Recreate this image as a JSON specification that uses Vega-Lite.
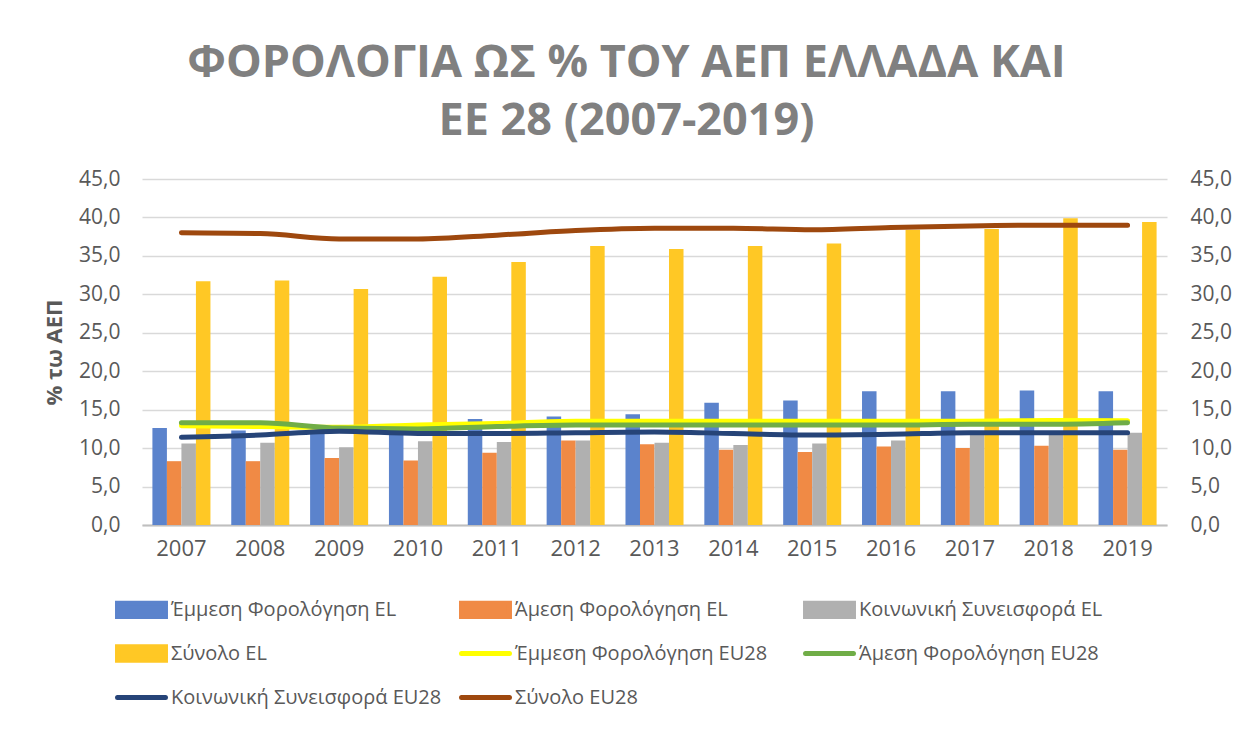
{
  "$schema": "https://vega.github.io/schema/vega-lite/v6.json",
  "width": 1025,
  "height": 346,
  "autosize": {"type": "none"},
  "padding": {"left": 142, "top": 179, "right": 85, "bottom": 204},
  "background": "white",
  "title": {
    "text": ["ΦΟΡΟΛΟΓΙΑ ΩΣ % ΤΟΥ ΑΕΠ ΕΛΛΑΔΑ ΚΑΙ", "ΕΕ 28 (2007-2019)"],
    "font": "Open Sans",
    "fontSize": 45,
    "fontWeight": "bold",
    "color": "#808080",
    "lineHeight": 58,
    "anchor": "middle",
    "dx": -28,
    "offset": 24
  },
  "data": {
    "values": [
      {"year": "2007", "series": "Έμμεση Φορολόγηση EL", "value": 12.6},
      {"year": "2007", "series": "Άμεση Φορολόγηση EL", "value": 8.3},
      {"year": "2007", "series": "Κοινωνική Συνεισφορά EL", "value": 10.6},
      {"year": "2007", "series": "Σύνολο EL", "value": 31.7},
      {"year": "2007", "series": "Έμμεση Φορολόγηση EU28", "value": 12.9},
      {"year": "2007", "series": "Άμεση Φορολόγηση EU28", "value": 13.3},
      {"year": "2007", "series": "Κοινωνική Συνεισφορά EU28", "value": 11.4},
      {"year": "2007", "series": "Σύνολο EU28", "value": 38.0},
      {"year": "2008", "series": "Έμμεση Φορολόγηση EL", "value": 12.3},
      {"year": "2008", "series": "Άμεση Φορολόγηση EL", "value": 8.3},
      {"year": "2008", "series": "Κοινωνική Συνεισφορά EL", "value": 10.7},
      {"year": "2008", "series": "Σύνολο EL", "value": 31.8},
      {"year": "2008", "series": "Έμμεση Φορολόγηση EU28", "value": 12.8},
      {"year": "2008", "series": "Άμεση Φορολόγηση EU28", "value": 13.3},
      {"year": "2008", "series": "Κοινωνική Συνεισφορά EU28", "value": 11.7},
      {"year": "2008", "series": "Σύνολο EU28", "value": 37.9},
      {"year": "2009", "series": "Έμμεση Φορολόγηση EL", "value": 12.2},
      {"year": "2009", "series": "Άμεση Φορολόγηση EL", "value": 8.7},
      {"year": "2009", "series": "Κοινωνική Συνεισφορά EL", "value": 10.1},
      {"year": "2009", "series": "Σύνολο EL", "value": 30.7},
      {"year": "2009", "series": "Έμμεση Φορολόγηση EU28", "value": 12.7},
      {"year": "2009", "series": "Άμεση Φορολόγηση EU28", "value": 12.6},
      {"year": "2009", "series": "Κοινωνική Συνεισφορά EU28", "value": 12.2},
      {"year": "2009", "series": "Σύνολο EU28", "value": 37.2},
      {"year": "2010", "series": "Έμμεση Φορολόγηση EL", "value": 12.0},
      {"year": "2010", "series": "Άμεση Φορολόγηση EL", "value": 8.4},
      {"year": "2010", "series": "Κοινωνική Συνεισφορά EL", "value": 10.9},
      {"year": "2010", "series": "Σύνολο EL", "value": 32.3},
      {"year": "2010", "series": "Έμμεση Φορολόγηση EU28", "value": 13.0},
      {"year": "2010", "series": "Άμεση Φορολόγηση EU28", "value": 12.5},
      {"year": "2010", "series": "Κοινωνική Συνεισφορά EU28", "value": 11.9},
      {"year": "2010", "series": "Σύνολο EU28", "value": 37.2},
      {"year": "2011", "series": "Έμμεση Φορολόγηση EL", "value": 13.8},
      {"year": "2011", "series": "Άμεση Φορολόγηση EL", "value": 9.4},
      {"year": "2011", "series": "Κοινωνική Συνεισφορά EL", "value": 10.8},
      {"year": "2011", "series": "Σύνολο EL", "value": 34.2},
      {"year": "2011", "series": "Έμμεση Φορολόγηση EU28", "value": 13.2},
      {"year": "2011", "series": "Άμεση Φορολόγηση EU28", "value": 12.8},
      {"year": "2011", "series": "Κοινωνική Συνεισφορά EU28", "value": 11.9},
      {"year": "2011", "series": "Σύνολο EU28", "value": 37.7},
      {"year": "2012", "series": "Έμμεση Φορολόγηση EL", "value": 14.1},
      {"year": "2012", "series": "Άμεση Φορολόγηση EL", "value": 11.0},
      {"year": "2012", "series": "Κοινωνική Συνεισφορά EL", "value": 11.0},
      {"year": "2012", "series": "Σύνολο EL", "value": 36.3},
      {"year": "2012", "series": "Έμμεση Φορολόγηση EU28", "value": 13.5},
      {"year": "2012", "series": "Άμεση Φορολόγηση EU28", "value": 13.0},
      {"year": "2012", "series": "Κοινωνική Συνεισφορά EU28", "value": 12.0},
      {"year": "2012", "series": "Σύνολο EU28", "value": 38.3},
      {"year": "2013", "series": "Έμμεση Φορολόγηση EL", "value": 14.4},
      {"year": "2013", "series": "Άμεση Φορολόγηση EL", "value": 10.5},
      {"year": "2013", "series": "Κοινωνική Συνεισφορά EL", "value": 10.7},
      {"year": "2013", "series": "Σύνολο EL", "value": 35.9},
      {"year": "2013", "series": "Έμμεση Φορολόγηση EU28", "value": 13.5},
      {"year": "2013", "series": "Άμεση Φορολόγηση EU28", "value": 13.0},
      {"year": "2013", "series": "Κοινωνική Συνεισφορά EU28", "value": 12.1},
      {"year": "2013", "series": "Σύνολο EU28", "value": 38.6},
      {"year": "2014", "series": "Έμμεση Φορολόγηση EL", "value": 15.9},
      {"year": "2014", "series": "Άμεση Φορολόγηση EL", "value": 9.8},
      {"year": "2014", "series": "Κοινωνική Συνεισφορά EL", "value": 10.4},
      {"year": "2014", "series": "Σύνολο EL", "value": 36.3},
      {"year": "2014", "series": "Έμμεση Φορολόγηση EU28", "value": 13.5},
      {"year": "2014", "series": "Άμεση Φορολόγηση EU28", "value": 13.0},
      {"year": "2014", "series": "Κοινωνική Συνεισφορά EU28", "value": 11.9},
      {"year": "2014", "series": "Σύνολο EU28", "value": 38.6},
      {"year": "2015", "series": "Έμμεση Φορολόγηση EL", "value": 16.2},
      {"year": "2015", "series": "Άμεση Φορολόγηση EL", "value": 9.5},
      {"year": "2015", "series": "Κοινωνική Συνεισφορά EL", "value": 10.6},
      {"year": "2015", "series": "Σύνολο EL", "value": 36.6},
      {"year": "2015", "series": "Έμμεση Φορολόγηση EU28", "value": 13.5},
      {"year": "2015", "series": "Άμεση Φορολόγηση EU28", "value": 13.0},
      {"year": "2015", "series": "Κοινωνική Συνεισφορά EU28", "value": 11.7},
      {"year": "2015", "series": "Σύνολο EU28", "value": 38.4},
      {"year": "2016", "series": "Έμμεση Φορολόγηση EL", "value": 17.4},
      {"year": "2016", "series": "Άμεση Φορολόγηση EL", "value": 10.2},
      {"year": "2016", "series": "Κοινωνική Συνεισφορά EL", "value": 11.0},
      {"year": "2016", "series": "Σύνολο EL", "value": 38.4},
      {"year": "2016", "series": "Έμμεση Φορολόγηση EU28", "value": 13.5},
      {"year": "2016", "series": "Άμεση Φορολόγηση EU28", "value": 13.0},
      {"year": "2016", "series": "Κοινωνική Συνεισφορά EU28", "value": 11.8},
      {"year": "2016", "series": "Σύνολο EU28", "value": 38.7},
      {"year": "2017", "series": "Έμμεση Φορολόγηση EL", "value": 17.4},
      {"year": "2017", "series": "Άμεση Φορολόγηση EL", "value": 10.0},
      {"year": "2017", "series": "Κοινωνική Συνεισφορά EL", "value": 11.7},
      {"year": "2017", "series": "Σύνολο EL", "value": 38.5},
      {"year": "2017", "series": "Έμμεση Φορολόγηση EU28", "value": 13.5},
      {"year": "2017", "series": "Άμεση Φορολόγηση EU28", "value": 13.1},
      {"year": "2017", "series": "Κοινωνική Συνεισφορά EU28", "value": 12.0},
      {"year": "2017", "series": "Σύνολο EU28", "value": 38.9},
      {"year": "2018", "series": "Έμμεση Φορολόγηση EL", "value": 17.5},
      {"year": "2018", "series": "Άμεση Φορολόγηση EL", "value": 10.3},
      {"year": "2018", "series": "Κοινωνική Συνεισφορά EL", "value": 11.8},
      {"year": "2018", "series": "Σύνολο EL", "value": 39.9},
      {"year": "2018", "series": "Έμμεση Φορολόγηση EU28", "value": 13.6},
      {"year": "2018", "series": "Άμεση Φορολόγηση EU28", "value": 13.1},
      {"year": "2018", "series": "Κοινωνική Συνεισφορά EU28", "value": 12.0},
      {"year": "2018", "series": "Σύνολο EU28", "value": 39.0},
      {"year": "2019", "series": "Έμμεση Φορολόγηση EL", "value": 17.4},
      {"year": "2019", "series": "Άμεση Φορολόγηση EL", "value": 9.8},
      {"year": "2019", "series": "Κοινωνική Συνεισφορά EL", "value": 12.0},
      {"year": "2019", "series": "Σύνολο EL", "value": 39.4},
      {"year": "2019", "series": "Έμμεση Φορολόγηση EU28", "value": 13.55},
      {"year": "2019", "series": "Άμεση Φορολόγηση EU28", "value": 13.3},
      {"year": "2019", "series": "Κοινωνική Συνεισφορά EU28", "value": 12.0},
      {"year": "2019", "series": "Σύνολο EU28", "value": 39.0}
    ]
  },
  "layer": [
    {
      "transform": [{"filter": "indexof(datum.series, 'EU28') < 0"}],
      "mark": {"type": "bar"},
      "encoding": {
        "x": {
          "field": "year", "type": "nominal",
          "scale": {"paddingInner": 0.264, "paddingOuter": 0.132},
          "axis": {
            "title": null, "labelAngle": 0, "ticks": false,
            "domainColor": "#bfbfbf", "domainWidth": 2,
            "labelFont": "Open Sans", "labelFontSize": 22, "labelColor": "#595959",
            "labelPadding": 13
          }
        },
        "xOffset": {
          "field": "series", "type": "nominal",
          "sort": ["Έμμεση Φορολόγηση EL", "Άμεση Φορολόγηση EL", "Κοινωνική Συνεισφορά EL", "Σύνολο EL"],
          "scale": {"paddingInner": 0, "paddingOuter": 0}
        },
        "y": {
          "field": "value", "type": "quantitative",
          "scale": {"domain": [0, 45], "nice": false},
          "axis": {
            "title": "% τω ΑΕΠ", "titleFont": "Open Sans", "titleFontSize": 22, "titleFontWeight": "bold",
            "titleColor": "#595959", "titlePadding": 12,
            "values": [0, 5, 10, 15, 20, 25, 30, 35, 40, 45],
            "labelExpr": "replace(format(datum.value, '.1f'), '.', ',')",
            "labelFont": "Open Sans", "labelFontSize": 21, "labelColor": "#595959",
            "labelPadding": 22, "ticks": false, "domain": false,
            "grid": true, "gridColor": "#d9d9d9", "gridWidth": 1.5
          }
        },
        "color": {
          "field": "series", "type": "nominal",
          "scale": {
            "domain": ["Έμμεση Φορολόγηση EL", "Άμεση Φορολόγηση EL", "Κοινωνική Συνεισφορά EL", "Σύνολο EL",
                       "Έμμεση Φορολόγηση EU28", "Άμεση Φορολόγηση EU28", "Κοινωνική Συνεισφορά EU28", "Σύνολο EU28"],
            "range": ["#5b83cc", "#f08a45", "#b0b0b0", "#ffc825", "#ffff00", "#70ad47", "#264478", "#9e480e"]
          },
          "legend": {
            "title": null,
            "orient": "none",
            "legendX": -27,
            "legendY": 404,
            "direction": "horizontal",
            "columns": 3,
            "gridAlign": "all",
            "columnPadding": 9,
            "rowPadding": 0,
            "symbolSize": 2300,
            "labelOffset": 3,
            "labelFont": "Open Sans",
            "labelFontSize": 20,
            "labelColor": "#595959",
            "labelLimit": 500,
            "encode": {
              "symbols": {
                "update": {
                  "shape": {"signal": "indexof(datum.value, 'EU28') < 0 ? 'M-1,-0.28H1V0.28H-1Z' : 'stroke'"},
                  "fill": {"signal": "indexof(datum.value, 'EU28') < 0 ? scale('color', datum.value) : 'transparent'"},
                  "stroke": {"signal": "indexof(datum.value, 'EU28') < 0 ? 'transparent' : scale('color', datum.value)"},
                  "strokeWidth": {"value": 5},
                  "strokeCap": {"value": "round"},
                  "opacity": {"value": 1}
                }
              }
            }
          }
        }
      }
    },
    {
      "transform": [{"filter": "indexof(datum.series, 'EU28') >= 0"}],
      "mark": {"type": "line", "strokeWidth": 5, "strokeCap": "round", "interpolate": "monotone"},
      "encoding": {
        "x": {"field": "year", "type": "nominal"},
        "y": {
          "field": "value", "type": "quantitative",
          "scale": {"domain": [0, 45], "nice": false},
          "axis": {
            "orient": "right", "title": null,
            "values": [0, 5, 10, 15, 20, 25, 30, 35, 40, 45],
            "labelExpr": "replace(format(datum.value, '.1f'), '.', ',')",
            "labelFont": "Open Sans", "labelFontSize": 21, "labelColor": "#595959",
            "labelPadding": 23, "ticks": false, "domain": false, "grid": false
          }
        },
        "color": {"field": "series", "type": "nominal"}
      }
    }
  ],
  "resolve": {"scale": {"y": "independent"}},
  "config": {"view": {"stroke": null}}
}
